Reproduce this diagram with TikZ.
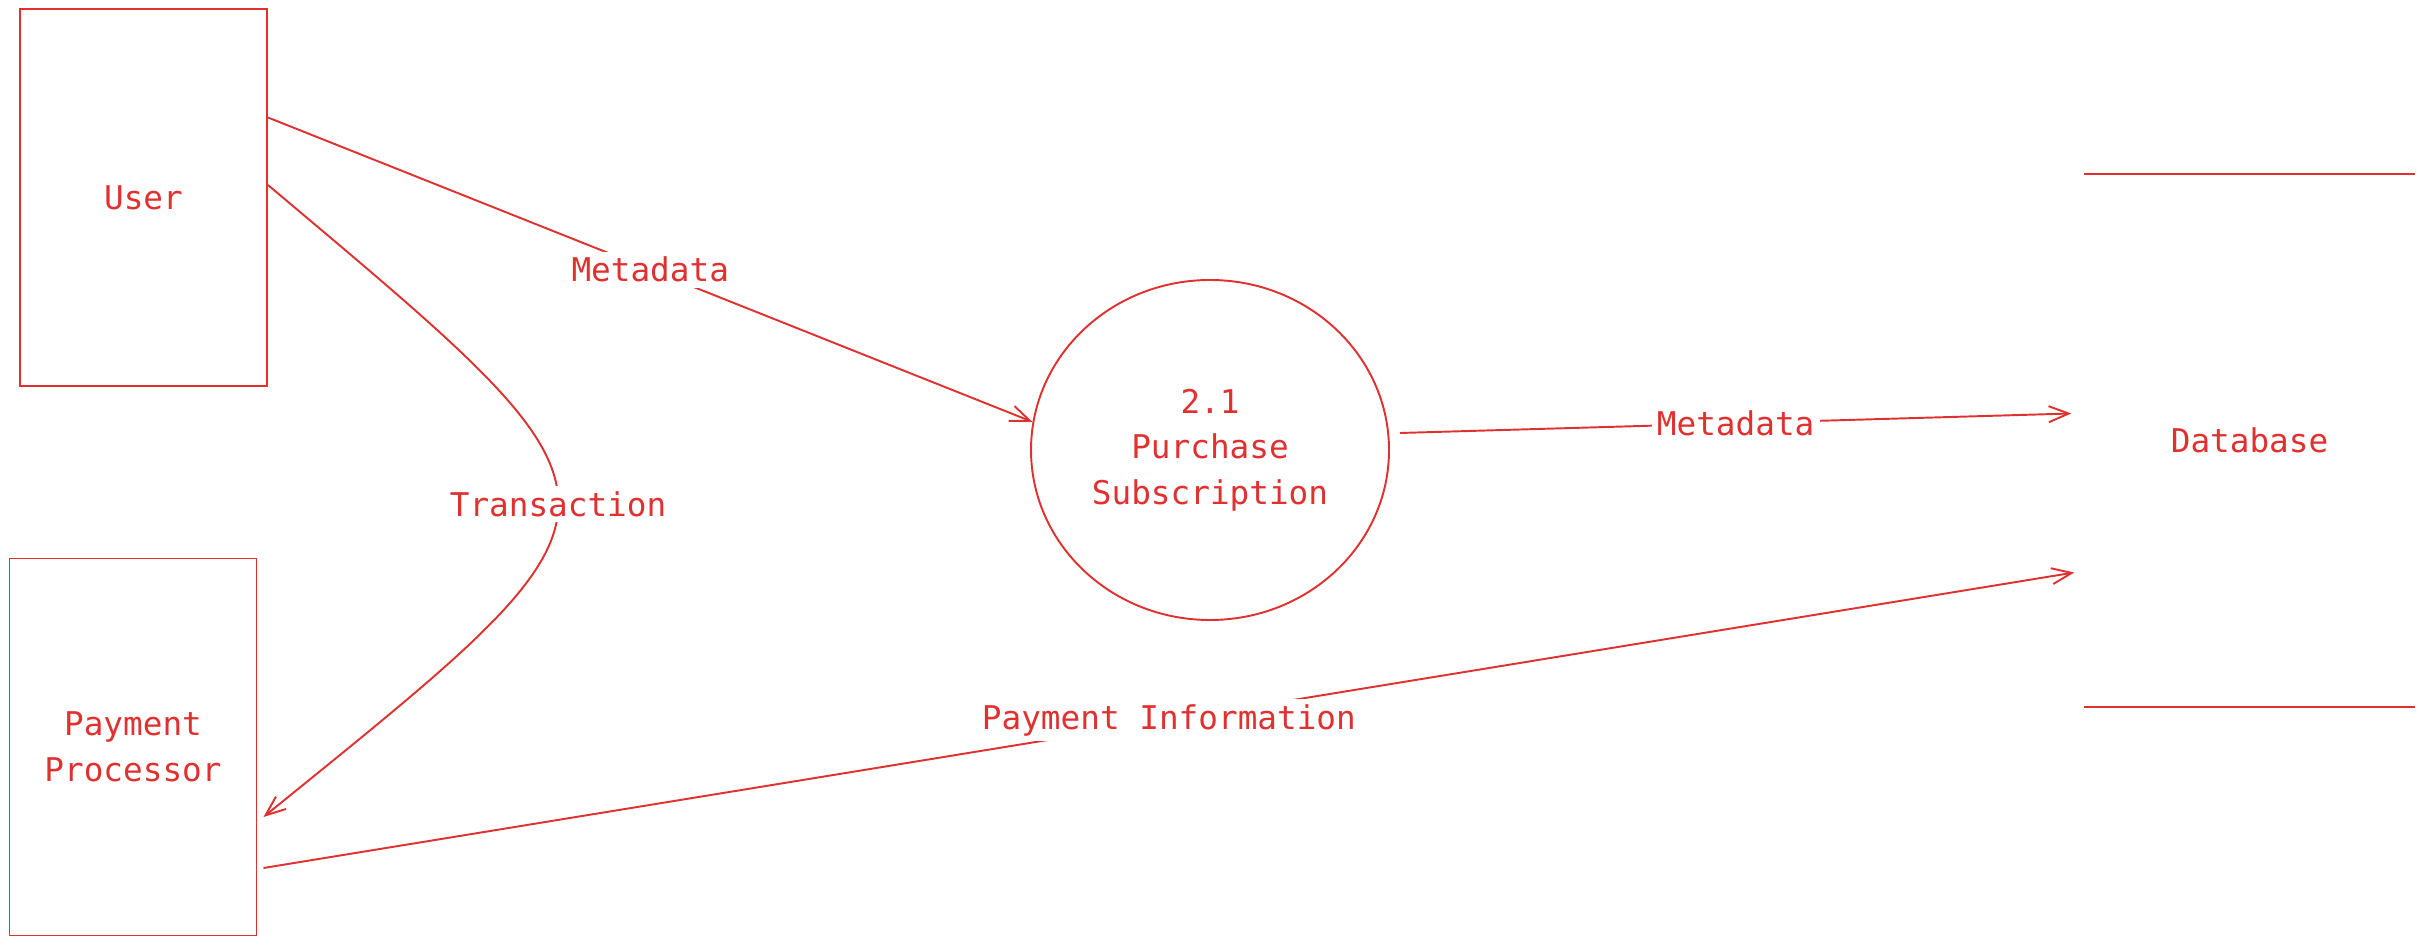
\documentclass[tikz,border=0pt]{standalone}
\usepackage{fontspec}
\setmonofont{DejaVu Sans Mono}
\usepackage{tikz}
\usetikzlibrary{shapes.geometric,arrows.meta,positioning,calc}
\definecolor{DFDRed}{RGB}{224,49,49}
\newcommand{\dfdfont}{\ttfamily\fontsize{9.3}{13}\selectfont}

\begin{document}
\begin{tikzpicture}[
  entity/.style={rectangle, draw=DFDRed, line width=0.55pt, minimum width=2.47cm, minimum height=3.77cm,
                 align=center, font=\dfdfont, text=DFDRed},
  process/.style={ellipse, draw=DFDRed, line width=0.55pt, minimum width=3.58cm, minimum height=3.40cm,
                  inner sep=0pt, align=center, font=\dfdfont, text=DFDRed},
  store/.style={rectangle, minimum width=3.29cm, minimum height=5.31cm, font=\dfdfont, text=DFDRed},
  flow/.style={-{Straight Barb[length=2mm,width=1.6mm]}, line width=0.55pt, DFDRed},
  flowlabel/.style={fill=white, inner sep=1.5pt, font=\dfdfont, text=DFDRed}
]
\useasboundingbox (0,0) rectangle (24.23,-9.45);
\node[entity] (U) at (1.435,-1.975) {User};
\node[entity] (P) at (1.33,-7.47) {Payment\\Processor};
\node[process] (S) at (12.10,-4.50) {2.1\\Purchase\\Subscription};
\node[store] (D) at (22.495,-4.405) {Database};
\draw[DFDRed, line width=0.55pt] (D.north west) -- (D.north east);
\draw[DFDRed, line width=0.55pt] (D.south west) -- (D.south east);
\draw[flow] ([yshift=8mm]U.east) -- (S.171) node[flowlabel, pos=0.5] {Metadata};
\draw[flow] ([xshift=1mm,yshift=1.7mm]S.east) -- ([shift={(-0.13,0.27)}]D.west) node[flowlabel, pos=0.5] {Metadata};
\draw[flow] ([yshift=1.25mm]U.east) .. controls (6.55,-5.11) and (6.56,-4.99) .. ([xshift=0.6mm,yshift=-7mm]P.east)
  node[flowlabel, pos=0.5] {Transaction};
\draw[flow] ([xshift=0.6mm,yshift=-12.1mm]P.east) -- ([shift={(-0.1,-1.32)}]D.west) node[flowlabel, pos=0.5] {Payment Information};
\end{tikzpicture}
\end{document}
